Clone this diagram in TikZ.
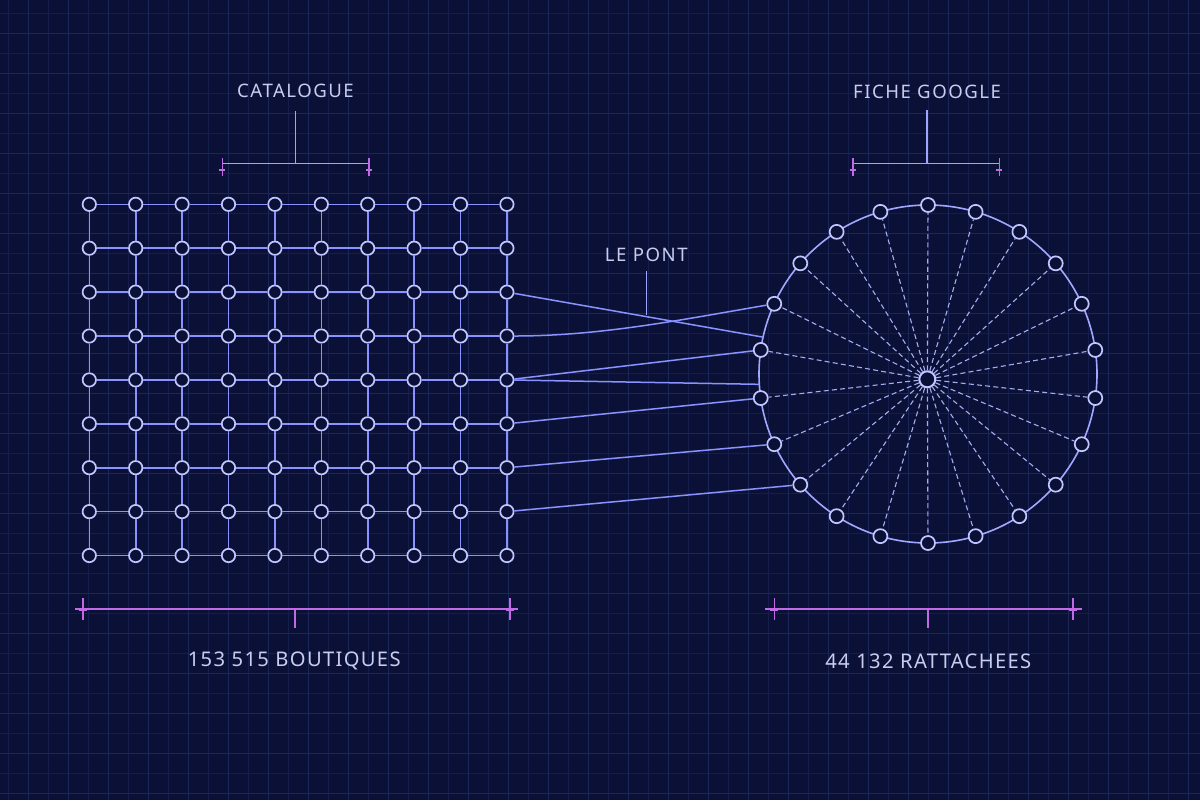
\documentclass[tikz,border=0pt]{standalone}
\usepackage{fontspec}
\setmainfont{Noto Sans}
\newfontfamily\lblfont[LetterSpace=8]{Noto Sans}
\newfontfamily\blblfont[LetterSpace=6.5]{Noto Sans}
\usetikzlibrary{calc}
\definecolor{bgc}{HTML}{0B1136}
\definecolor{gridc}{HTML}{141D4B}
\definecolor{gridmaj}{HTML}{1C2759}
\definecolor{edgec}{HTML}{8A92FF}
\definecolor{nodec}{HTML}{C2C6FF}
\definecolor{ringc}{HTML}{A2A8FF}
\definecolor{spokec}{HTML}{A6ACF0}
\definecolor{txtc}{HTML}{C8CCEE}
\definecolor{magc}{HTML}{C06AE6}
\definecolor{brkc}{HTML}{A0A4FF}
\begin{document}
\begin{tikzpicture}[x=0.5pt,y=-0.5pt,
  gnode/.style={circle,draw=nodec,fill=bgc,line width=0.85pt,minimum size=6.7pt,inner sep=0pt},
  rnode/.style={circle,draw=nodec,fill=bgc,line width=0.85pt,minimum size=7pt,inner sep=0pt},
  hubnode/.style={circle,draw=nodec,fill=bgc,line width=1pt,minimum size=8pt,inner sep=0pt},
  gedge/.style={draw=edgec,line width=0.8pt},
  ringline/.style={draw=ringc,line width=0.8pt},
  spoke/.style={draw=spokec,line width=0.55pt,dash pattern=on 2.5pt off 1.6pt},
  bridge/.style={draw=edgec,line width=0.75pt},
  brk/.style={draw=brkc,line width=0.8pt},
  mtick/.style={draw=magc,line width=0.8pt},
  lbl/.style={text=txtc,inner sep=0pt,font=\lblfont\fontsize{9.3}{11}\selectfont},
  blbl/.style={text=txtc,inner sep=0pt,font=\blblfont\fontsize{10.1}{12}\selectfont}]
\useasboundingbox (0,0) rectangle (1200,800);
\fill[bgc] (0,0) rectangle (1200,800);
\foreach \x in {8,48,...,1200} \draw[gridc,line width=0.5pt] (\x,0) -- (\x,800);
\foreach \y in {13,53,...,800} \draw[gridc,line width=0.5pt] (0,\y) -- (1200,\y);
\foreach \x in {28,68,...,1200} \draw[gridmaj,line width=0.5pt] (\x,0) -- (\x,800);
\foreach \y in {33,73,...,800} \draw[gridmaj,line width=0.5pt] (0,\y) -- (1200,\y);

% ---- catalogue grid ----
\foreach \i in {0,...,9}
  \foreach \j in {0,...,8}
    \node[gnode] (g\i-\j) at ({89.3+\i*46.4},{204.3+\j*43.9}) {};
\foreach \i in {0,...,8}{
  \pgfmathtruncatemacro\k{\i+1}
  \foreach \j in {0,...,8} \draw[gedge] (g\i-\j) -- (g\k-\j);
}
\foreach \i in {0,...,9}
  \foreach \j in {0,...,7}{
    \pgfmathtruncatemacro\m{\j+1}
    \draw[gedge] (g\i-\j) -- (g\i-\m);
  }

% ---- ring ----
\coordinate (rc) at (928,374);
\draw[ringline] (rc) circle[radius=84.5pt];
\foreach \k in {0,...,21}
  \node[rnode] (r\k) at ($(rc)+({-90+\k*360/22}:169)$) {};
\node[hubnode] (hub) at (927.3,379.3) {};
\foreach \k in {0,...,21} \draw[spoke] (hub) -- (r\k);

% ---- bridge ----
\coordinate (pa) at ($(rc)+(192.6:169)$);
\coordinate (pb) at ($(rc)+(176.5:169)$);
\draw[bridge] (g9-2) -- (pa);
\draw[bridge] (g9-3) .. controls (600,336) and (680,320) .. (r18);
\draw[bridge] (g9-4) -- (r17);
\draw[bridge] (g9-4) -- (pb);
\draw[bridge] (g9-5) -- (r16);
\draw[bridge] (g9-6) -- (r15);
\draw[bridge] (g9-7) -- (r14);

\node[lbl] (pont) at (646.3,255.3) {LE PONT};
\coordinate (pontb) at (646.3,315);
\draw[brk] ([yshift=-4.2pt]pont.south) -- (pontb);

% ---- top brackets ----
\node[lbl] (cat) at (295.5,91.3) {CATALOGUE};
\coordinate (catb) at (295.5,163.3);
\draw[brk] ([yshift=-6.2pt]cat.south) -- (catb);
\coordinate (catl) at (222.3,163.3);
\coordinate (catr) at (369,163.3);
\draw[brk] (catl) -- (catr);

\node[lbl] (fiche) at (927,91.6) {FICHE GOOGLE};
\coordinate (ficheb) at (927,163.3);
\draw[brk] ([yshift=-5.8pt]fiche.south) -- (ficheb);
\coordinate (fichel) at (852.7,163.3);
\coordinate (ficher) at (999.3,163.3);
\draw[brk] (fichel) -- (ficher);

\foreach \c in {catl,catr,fichel,ficher}{
  \draw[mtick] ($(\c)+(0,-5)$) -- ($(\c)+(0,13)$);
  \draw[mtick] ($(\c)+(-3,6.5)$) -- ($(\c)+(3,6.5)$);
}

% ---- bottom brackets ----
\coordinate (bla) at (75,609);
\coordinate (blb) at (518.3,609);
\draw[mtick] (bla) -- (blb);
\coordinate (blt1) at (82.7,609);
\coordinate (blt2) at (510,609);
\coordinate (blc) at (295,609);
\coordinate (blcd) at (295,628);
\draw[mtick] (blc) -- (blcd);

\coordinate (bra) at (765,609);
\coordinate (brb) at (1081.7,609);
\draw[mtick] (bra) -- (brb);
\coordinate (brt1) at (774.3,609);
\coordinate (brt2) at (1072.7,609);
\coordinate (brc) at (928,609);
\coordinate (brcd) at (928,628);
\draw[mtick] (brc) -- (brcd);

\foreach \c in {blt1,blt2,brt1,brt2}{
  \draw[mtick] ($(\c)+(0,-11)$) -- ($(\c)+(0,11)$);
  \draw[mtick] ($(\c)+(-4,1.5)$) -- ($(\c)+(4,1.5)$);
}

\node[blbl] (bout) at (294.2,660.5) {153 515 BOUTIQUES};
\node[blbl] (ratt) at (928.3,661) {44 132 RATTACHEES};
\end{tikzpicture}
\end{document}
